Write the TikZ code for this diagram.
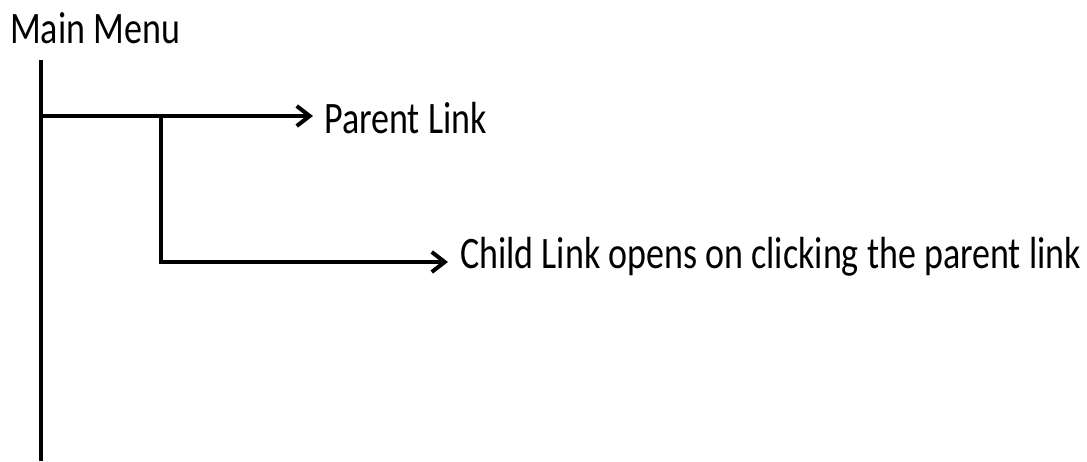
\documentclass[tikz,border=0pt]{standalone}
\usepackage{fontspec}
\setmainfont{Carlito}
\usetikzlibrary{arrows.meta}
\newcommand{\narrow}[1]{\scalebox{0.8}[1]{#1}}
\begin{document}
\begin{tikzpicture}[x=1pt,y=-1pt,
  label text/.style={inner sep=0pt, anchor=base west,
    font=\fontsize{45}{45}\selectfont},
  wire/.style={line width=4pt, line cap=butt, line join=miter},
  arrowed/.style={wire, -{Straight Barb[length=13pt,width=20pt,line width=0pt 1]}}]
  \useasboundingbox (0,0) rectangle (1087,461);
  % labels
  \node[label text] (menu)   at (10,43)   {\narrow{Main Menu}};
  \node[label text] (parent) at (324,133) {\narrow{Parent Link}};
  \node[label text] (child)  at (460,268) {\narrow{Child Link opens on clicking the parent link}};
  % tree skeleton
  \coordinate (top)    at (41,60);
  \coordinate (bottom) at (41,461);
  \coordinate (pj)     at (39,116);
  \coordinate (cj)     at (161,116);
  \coordinate (ce)     at (161,262);
  \draw[wire] (top) -- (bottom);
  \draw[arrowed] (pj) -- ([xshift=-11pt]parent.west |- pj);
  \draw[wire] (cj) -- (ce);
  \draw[arrowed] ([xshift=-2pt]ce) -- ([xshift=-12pt]child.west |- ce);
\end{tikzpicture}
\end{document}
